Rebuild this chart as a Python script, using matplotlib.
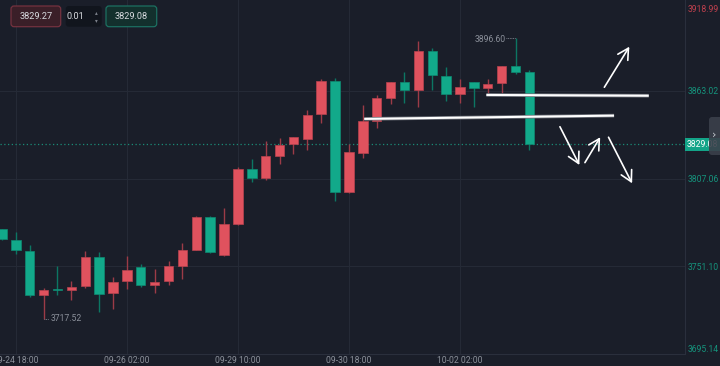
import numpy as np
import matplotlib.pyplot as plt
import matplotlib.patheffects as pe
from matplotlib.patches import FancyBboxPatch
from matplotlib.transforms import IdentityTransform, blended_transform_factory

# 4h candles (red = up, green = down)
opens = [3774.9, 3767.9, 3760.7, 3733.0, 3736.8, 3735.8, 3738.6, 3756.9, 3733.9, 3741.7,
         3750.7, 3739.1, 3741.7, 3751.2, 3761.7, 3782.6, 3758.3, 3778.3, 3813.2, 3807.3,
         3821.3, 3828.9, 3832.4, 3848.2, 3869.6, 3798.4, 3823.3, 3844.1, 3858.7, 3868.6,
         3863.5, 3888.7, 3872.8, 3860.9, 3868.6, 3864.9, 3867.9, 3879.0, 3875.0]
highs = [3774.9, 3772.8, 3764.7, 3737.1, 3751.3, 3741.9, 3761.1, 3760.1, 3744.1, 3757.9,
         3752.6, 3749.2, 3754.8, 3765.8, 3783.2, 3783.2, 3788.5, 3814.3, 3819.8, 3831.3,
         3833.2, 3833.5, 3850.7, 3870.5, 3871.2, 3829.4, 3854.3, 3860.5, 3868.8, 3875.0,
         3895.1, 3890.5, 3878.5, 3870.9, 3869.0, 3870.9, 3879.0, 3896.60, 3876.4]
lows = [3767.9, 3758.8, 3731.7, 3717.52, 3732.6, 3729.4, 3737.5, 3722.2, 3723.7, 3736.4,
        3737.8, 3734.3, 3738.9, 3742.9, 3761.5, 3759.9, 3757.7, 3777.5, 3805.1, 3806.2,
        3816.6, 3822.5, 3825.4, 3842.4, 3793.0, 3798.1, 3820.1, 3839.6, 3854.7, 3855.6,
        3853.0, 3863.5, 3856.8, 3855.2, 3852.6, 3861.6, 3861.7, 3873.7, 3825.4]
closes = [3768.6, 3761.3, 3733.0, 3735.8, 3735.8, 3737.9, 3756.9, 3733.5, 3741.3, 3748.8,
          3738.9, 3741.4, 3751.1, 3761.4, 3782.6, 3760.4, 3778.3, 3813.2, 3807.3, 3821.3,
          3828.7, 3833.5, 3847.9, 3869.4, 3798.4, 3824.0, 3843.9, 3858.4, 3868.8, 3863.5,
          3888.7, 3873.0, 3860.9, 3865.4, 3865.1, 3867.7, 3879.0, 3875.0, 3829.08]

time_labels = ['09-24 18:00', '09-26 02:00', '09-29 10:00', '09-30 18:00', '10-02 02:00']
time_idx = [1, 9, 17, 25, 33]
price_ticks = [3863.02, 3807.06, 3751.10]
price_top = 3918.99
price_bottom = 3695.14

# hand drawn marks (index, price)
level_lines = [((34.9, 3860.5), (46.6, 3860.0)),
               ((26.1, 3845.2), (44.1, 3847.3))]
arrows = [((43.4, 3865.4), (45.2, 3891.3)),
          ((40.2, 3840.2), (41.6, 3815.8)),
          ((42.0, 3817.3), (43.1, 3833.5)),
          ((43.7, 3833.5), (45.4, 3804.1))]

BG = '#1a1e29'
GRID = '#252a36'
RED = '#e0525e'
GREEN = '#12a98a'
RED_W = '#9c3b47'
GREEN_W = '#0c7663'
AXIS_TXT = '#15937c'
GRAY_TXT = '#8b909a'
FONT = 'Roboto'

W, H = 720, 366
fig = plt.figure(figsize=(7.2, 3.66), dpi=100)
fig.patch.set_facecolor(BG)
ax = fig.add_axes([0, 12 / H, 685 / W, 354 / H])
ax.set_facecolor(BG)

x = np.arange(len(opens))
o = np.array(opens)
c = np.array(closes)
up = c >= o
colors = np.where(up, RED, GREEN)
wick_colors = np.where(up, RED_W, GREEN_W)

ax.vlines(x, lows, highs, colors=wick_colors, lw=1.0, zorder=2)
body_h = np.maximum(np.abs(c - o), 0.6)
ax.bar(x, body_h, bottom=np.minimum(o, c), width=0.68, color=colors,
       edgecolor=np.where(up, '#b8434f', '#0e8a72'), lw=0.5, zorder=3)

ax.set_xlim(-0.14, 49.21)
ax.set_ylim(price_bottom, 3921.1)

# grid
for t in time_idx:
    ax.axvline(t, color=GRID, lw=0.8, zorder=0)
for p in price_ticks:
    ax.axhline(p, color=GRID, lw=0.8, zorder=0)

for s in ['top', 'left']:
    ax.spines[s].set_visible(False)
ax.spines['right'].set_color('#2a2f3c')
ax.spines['bottom'].set_color('#2a2f3c')

ax.set_xticks(time_idx)
ax.set_xticklabels(time_labels)
ax.tick_params(axis='x', length=0, pad=1.5, labelsize=6.2, labelcolor=GRAY_TXT)
ax.yaxis.tick_right()
ax.set_yticks(price_ticks)
ax.set_yticklabels([f'{p:.2f}' for p in price_ticks])
ax.tick_params(axis='y', length=0, pad=2, labelsize=6.2, labelcolor=AXIS_TXT)
for lab in ax.get_xticklabels() + ax.get_yticklabels():
    lab.set_family(FONT)

trans = blended_transform_factory(ax.transAxes, ax.transData)
ax.annotate(f'{price_top:.2f}', (1, price_top), xycoords=trans, xytext=(2, -4.3),
            textcoords='offset points', ha='left', va='center', fontsize=6.2,
            color='#c0404e', family=FONT, annotation_clip=False)
ax.annotate(f'{price_bottom:.2f}', (1, price_bottom), xycoords=trans, xytext=(2, 3.6),
            textcoords='offset points', ha='left', va='center', fontsize=6.2,
            color=AXIS_TXT, family=FONT, annotation_clip=False)

# last price line and tag
last = closes[-1]
ax.axhline(last, color='#1a8c77', lw=0.9, ls=(0, (1, 2)), zorder=1)
ax.annotate(f'{last:.2f}', (1, last), xycoords=trans, xytext=(1.4, 0),
            textcoords='offset points', ha='left', va='center', fontsize=6.2,
            color='white', family=FONT, annotation_clip=False,
            bbox=dict(boxstyle='square,pad=0.25', fc='#13a488', ec='none'))

# high / low markers
lo_i = int(np.argmin(lows))
hi_i = int(np.argmax(highs))
ax.plot([lo_i, lo_i + 0.38], [lows[lo_i]] * 2, color=GRAY_TXT, lw=0.6, ls=(0, (1, 1)))
ax.text(lo_i + 0.5, lows[lo_i], f'{lows[lo_i]:.2f}', ha='left', va='center',
        fontsize=6.2, color=GRAY_TXT, family=FONT)
ax.plot([hi_i - 0.65, hi_i], [highs[hi_i]] * 2, color=GRAY_TXT, lw=0.6, ls=(0, (1, 1)))
ax.text(hi_i - 0.72, highs[hi_i] - 0.8, f'{highs[hi_i]:.2f}', ha='right', va='center',
        fontsize=6.2, color=GRAY_TXT, family=FONT)

# drawn levels and arrows
for (x0, y0), (x1, y1) in level_lines:
    ax.plot([x0, x1], [y0, y1], color='white', lw=1.5, solid_capstyle='butt', zorder=5,
            path_effects=[pe.Stroke(linewidth=2.6, foreground='#6c7078'), pe.Normal()])
for (x0, y0), (x1, y1) in arrows:
    ax.annotate('', xy=(x1, y1), xytext=(x0, y0),
                arrowprops=dict(arrowstyle='->,head_length=0.55,head_width=0.3',
                                color='white', lw=1.2, mutation_scale=14,
                                shrinkA=0, shrinkB=0), zorder=5)

# top-left order widgets
def box(x0, y0, w, h, fc, ec):
    p = FancyBboxPatch((x0, H - y0 - h), w, h, boxstyle='round,pad=0,rounding_size=3',
                       fc=fc, ec=ec, lw=0.9, transform=IdentityTransform())
    fig.add_artist(p)

box(11, 6, 49.7, 20.7, '#3a1f28', '#74323f')
box(65.7, 6, 36, 20.7, '#11151d', 'none')
box(106, 6, 50.7, 20.7, '#13302d', '#1c7061')
fig.text(35.8 / W, 1 - 16.5 / H, '3829.27', ha='center', va='center', color='#d8dadf',
         fontsize=6.6, family=FONT)
fig.text(75.5 / W, 1 - 16.5 / H, '0.01', ha='center', va='center', color='#d8dadf',
         fontsize=6.6, family=FONT)
fig.text(96.5 / W, 1 - 12.5 / H, '▴', ha='center', va='center', color='#7d828c', fontsize=4)
fig.text(96.5 / W, 1 - 20.5 / H, '▾', ha='center', va='center', color='#7d828c', fontsize=4)
fig.text(131.3 / W, 1 - 16.5 / H, '3829.08', ha='center', va='center', color='#d8dadf',
         fontsize=6.6, family=FONT)

# side collapse tab
tab = FancyBboxPatch((709, H - 155), 14, 38, boxstyle='round,pad=0,rounding_size=3',
                     fc='#3b404b', ec='none', alpha=0.9, transform=IdentityTransform())
fig.add_artist(tab)
fig.text(714.5 / W, 1 - 135 / H, '›', ha='center', va='center', color='#c4c8cf', fontsize=8)

fig.savefig('out.png', dpi=100, facecolor=BG)
